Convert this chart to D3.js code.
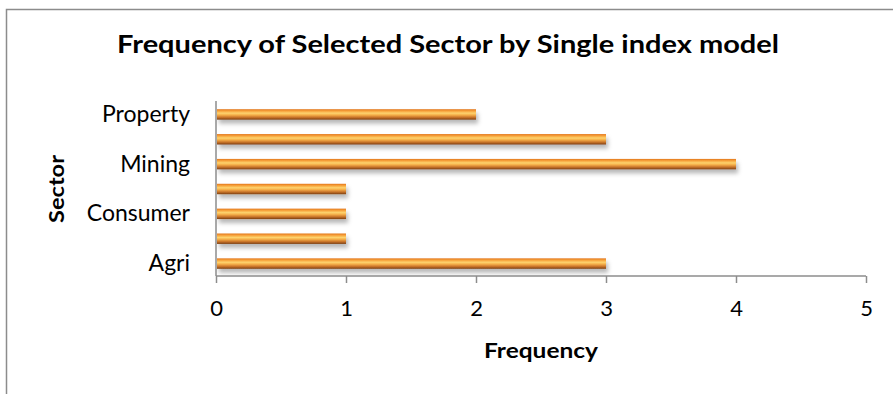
<!DOCTYPE html>
<html>
<head>
<meta charset="utf-8">
<script src="https://cdn.jsdelivr.net/npm/d3@7"></script>
<style>
  body { margin: 0; background: #fff; }
  svg { display: block; font-family: Lato, "Open Sans", sans-serif; }
</style>
</head>
<body>
<div id="chart"></div>
<script>
// sectors listed bottom to top, only every other one is labelled
const sectors = ["Agri", "Basic Industry", "Consumer", "Infrastructure", "Mining", "Misc Industry", "Property"];
const frequency = [3, 1, 1, 1, 4, 3, 2];
const xTicks = [0, 1, 2, 3, 4, 5];

const width = 893, height = 394;
const margin = { top: 102, right: 27, bottom: 118, left: 216 };
const innerW = width - margin.left - margin.right;
const innerH = height - margin.top - margin.bottom;
const font = "Lato, 'Open Sans', sans-serif";

const svg = d3.select("#chart").append("svg")
    .attr("width", width)
    .attr("height", height);

const defs = svg.append("defs");
const grad = defs.append("linearGradient")
    .attr("id", "barGrad")
    .attr("x1", 0).attr("y1", 0).attr("x2", 0).attr("y2", 1);
[["0%", "#e2761b"], ["18%", "#f7a33c"], ["38%", "#fdd36e"], ["55%", "#f6b04a"],
 ["78%", "#c9742a"], ["100%", "#7c3f12"]].forEach(s => {
    grad.append("stop").attr("offset", s[0]).attr("stop-color", s[1]);
});
const shadow = defs.append("filter").attr("id", "shadow")
    .attr("x", "-5%").attr("y", "-50%").attr("width", "110%").attr("height", "250%");
shadow.append("feDropShadow")
    .attr("dx", 2).attr("dy", 4).attr("stdDeviation", 2.2)
    .attr("flood-color", "#000").attr("flood-opacity", 0.28);

// outer chart border
svg.append("rect")
    .attr("x", 6.5).attr("y", 9.5)
    .attr("width", width).attr("height", height)
    .attr("fill", "none")
    .attr("stroke", "#8c8c8c")
    .attr("stroke-width", 1.5);

const g = svg.append("g").attr("transform", `translate(${margin.left},${margin.top})`);

const x = d3.scaleLinear().domain([0, 5]).range([0, innerW]);
const y = d3.scaleBand()
    .domain(sectors.slice().reverse())
    .range([0, innerH])
    .paddingInner(0.58)
    .paddingOuter(0.29);

// bars
g.selectAll(".bar")
    .data(sectors.map((s, i) => ({ sector: s, value: frequency[i] })))
    .join("rect")
    .attr("class", "bar")
    .attr("x", 1)
    .attr("y", d => y(d.sector))
    .attr("width", d => x(d.value) - 1)
    .attr("height", y.bandwidth())
    .attr("fill", "url(#barGrad)")
    .attr("filter", "url(#shadow)");

// x axis
const xAxis = g.append("g")
    .attr("transform", `translate(0,${innerH})`)
    .call(d3.axisBottom(x).tickValues(xTicks).tickSize(7).tickPadding(17).tickFormat(d3.format("d")));
xAxis.attr("font-family", font);
xAxis.select(".domain").attr("stroke", "#8c8c8c").attr("stroke-width", 1.5).attr("d", `M0,0H${innerW}`);
xAxis.selectAll(".tick line").attr("stroke", "#8c8c8c").attr("stroke-width", 1.5);
xAxis.selectAll(".tick text").attr("font-size", 22).attr("fill", "#000");

// y axis
const yAxis = g.append("g")
    .call(d3.axisLeft(y).tickSize(0).tickPadding(26)
        .tickFormat(d => sectors.indexOf(d) % 2 === 0 ? d : ""));
yAxis.attr("font-family", font);
yAxis.select(".domain").attr("stroke", "#8c8c8c").attr("stroke-width", 1.5).attr("d", `M0,-1V${innerH}`);
yAxis.selectAll(".tick text").attr("font-size", 23).attr("fill", "#000");

// title
svg.append("text")
    .attr("x", 448).attr("y", 53)
    .attr("text-anchor", "middle")
    .attr("font-size", 24)
    .attr("font-weight", "bold")
    .attr("textLength", 662)
    .attr("lengthAdjust", "spacingAndGlyphs")
    .text("Frequency of Selected Sector by Single index model");

// axis titles
svg.append("text")
    .attr("x", margin.left + innerW / 2).attr("y", 358)
    .attr("text-anchor", "middle")
    .attr("font-size", 20)
    .attr("font-weight", "bold")
    .attr("textLength", 114)
    .attr("lengthAdjust", "spacingAndGlyphs")
    .text("Frequency");

svg.append("text")
    .attr("transform", `translate(64,${margin.top + innerH / 2}) rotate(-90)`)
    .attr("text-anchor", "middle")
    .attr("font-size", 20)
    .attr("font-weight", "bold")
    .attr("textLength", 68)
    .attr("lengthAdjust", "spacingAndGlyphs")
    .text("Sector");
</script>
</body>
</html>
